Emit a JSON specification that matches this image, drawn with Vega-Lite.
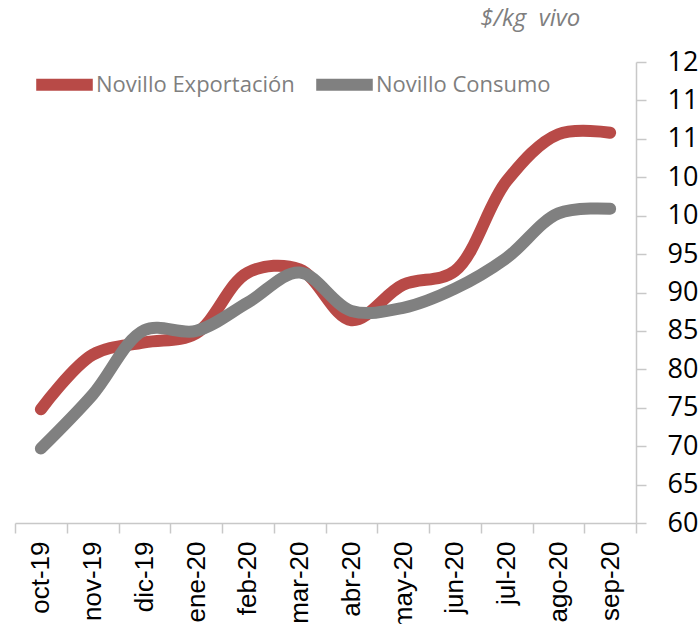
{
  "$schema": "https://vega.github.io/schema/vega-lite/v6.json",
  "autosize": "none",
  "width": 621,
  "height": 461,
  "padding": {"left": 15, "top": 62, "right": 63, "bottom": 101},
  "background": "white",
  "title": {"text": "$/kg\u00a0\u00a0vivo", "anchor": "end", "dx": -133, "offset": 17, "fontStyle": "italic", "fontWeight": "normal", "color": "#7f7f7f", "fontSize": 24, "font": "Open Sans"},
  "config": {"view": {"stroke": null}},
  "data": {"values": [
    {"mes": "oct-19", "serie": "Novillo Exportación", "valor": 74.8},
    {"mes": "nov-19", "serie": "Novillo Exportación", "valor": 81.9},
    {"mes": "dic-19", "serie": "Novillo Exportación", "valor": 83.5},
    {"mes": "ene-20", "serie": "Novillo Exportación", "valor": 84.7},
    {"mes": "feb-20", "serie": "Novillo Exportación", "valor": 92.6},
    {"mes": "mar-20", "serie": "Novillo Exportación", "valor": 93.0},
    {"mes": "abr-20", "serie": "Novillo Exportación", "valor": 86.4},
    {"mes": "may-20", "serie": "Novillo Exportación", "valor": 91.0},
    {"mes": "jun-20", "serie": "Novillo Exportación", "valor": 92.8},
    {"mes": "jul-20", "serie": "Novillo Exportación", "valor": 104.5},
    {"mes": "ago-20", "serie": "Novillo Exportación", "valor": 110.6},
    {"mes": "sep-20", "serie": "Novillo Exportación", "valor": 110.8},
    {"mes": "oct-19", "serie": "Novillo Consumo", "valor": 69.7},
    {"mes": "nov-19", "serie": "Novillo Consumo", "valor": 76.7},
    {"mes": "dic-19", "serie": "Novillo Consumo", "valor": 85.1},
    {"mes": "ene-20", "serie": "Novillo Consumo", "valor": 85.0},
    {"mes": "feb-20", "serie": "Novillo Consumo", "valor": 88.7},
    {"mes": "mar-20", "serie": "Novillo Consumo", "valor": 92.6},
    {"mes": "abr-20", "serie": "Novillo Consumo", "valor": 87.6},
    {"mes": "may-20", "serie": "Novillo Consumo", "valor": 88.0},
    {"mes": "jun-20", "serie": "Novillo Consumo", "valor": 90.5},
    {"mes": "jul-20", "serie": "Novillo Consumo", "valor": 94.5},
    {"mes": "ago-20", "serie": "Novillo Consumo", "valor": 100.3},
    {"mes": "sep-20", "serie": "Novillo Consumo", "valor": 100.9}
  ]},
  "mark": {"type": "line", "strokeWidth": 12, "strokeCap": "round", "strokeJoin": "round", "interpolate": "catmull-rom"},
  "encoding": {
    "x": {
      "field": "mes", "type": "nominal", "bandPosition": 0.5,
      "sort": ["oct-19","nov-19","dic-19","ene-20","feb-20","mar-20","abr-20","may-20","jun-20","jul-20","ago-20","sep-20"],
      "scale": {"type": "band", "paddingInner": 0, "paddingOuter": 0},
      "axis": {"title": null, "labelAngle": -90, "labelAlign": "right", "labelBaseline": "middle", "labelFontSize": 26, "labelFont": "Liberation Sans", "labelColor": "#000000", "tickBand": "extent", "tickSize": 10, "tickColor": "#c8c8c8", "domainColor": "#c8c8c8", "domainWidth": 1.5, "tickWidth": 1.5, "labelPadding": 8}
    },
    "y": {
      "field": "valor", "type": "quantitative",
      "scale": {"domain": [60, 120], "nice": false, "zero": false},
      "axis": {"title": null, "orient": "right", "values": [60,65,70,75,80,85,90,95,100,105,110,115,120], "grid": false, "labelFontSize": 27, "labelFont": "Open Sans", "labelColor": "#000000", "tickSize": 10, "tickColor": "#c8c8c8", "domainColor": "#c8c8c8", "domainWidth": 1.5, "tickWidth": 1.5, "labelPadding": 21, "labelBaseline": "middle"}
    },
    "color": {
      "field": "serie", "type": "nominal",
      "scale": {"domain": ["Novillo Exportación", "Novillo Consumo"], "range": ["#b84a47", "#808080"]},
      "legend": {"title": null, "orient": "none", "legendX": 15, "legendY": -12, "direction": "horizontal", "symbolType": "stroke", "symbolStrokeWidth": 12, "symbolSize": 3200, "labelFontSize": 22, "labelFont": "Open Sans", "labelColor": "#7f7f7f", "labelOffset": -3, "labelLimit": 400, "columnPadding": -3}
    }
  }
}
